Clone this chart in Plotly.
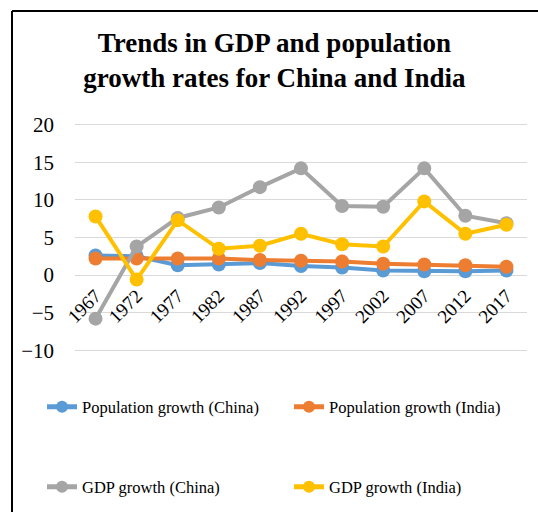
import plotly.graph_objects as go

years = ["1967", "1972", "1977", "1982", "1987", "1992", "1997", "2002", "2007", "2012", "2017"]
pop_china = [2.6, 2.5, 1.3, 1.4, 1.6, 1.2, 1.0, 0.6, 0.5, 0.5, 0.6]
pop_india = [2.2, 2.2, 2.2, 2.2, 2.0, 1.9, 1.8, 1.5, 1.4, 1.3, 1.1]
gdp_china = [-5.8, 3.8, 7.6, 9.0, 11.7, 14.2, 9.2, 9.1, 14.2, 7.9, 6.9]
gdp_india = [7.8, -0.6, 7.3, 3.5, 3.9, 5.5, 4.1, 3.8, 9.8, 5.5, 6.7]

series = [
    ("Population growth (China)", pop_china, "#5B9BD5", "legend"),
    ("Population growth (India)", pop_india, "#ED7D31", "legend"),
    ("GDP growth (China)", gdp_china, "#A5A5A5", "legend2"),
    ("GDP growth (India)", gdp_india, "#FFC000", "legend2"),
]

FONT = "Liberation Serif"

fig = go.Figure()
for name, vals, color, lg in series:
    fig.add_trace(go.Scatter(
        x=years, y=vals, name=name, mode="lines+markers",
        line=dict(color=color, width=4),
        marker=dict(color=color, size=14),
        legend=lg,
    ))

W, H = 538, 512
L, R, T, B = 75, 11, 121, 158
pw, ph = W - L - R, H - T - B
YMIN, YMAX = -10.5, 20.5

def px(x):
    return (x - L) / pw

def py(y):
    return (H - B - y) / ph

legend_common = dict(
    orientation="h", x=px(42), xanchor="left", yanchor="middle",
    font=dict(size=16.5, family=FONT), entrywidth=202, entrywidthmode="pixels",
    bgcolor="rgba(0,0,0,0)", itemsizing="constant",
)

fig.update_layout(
    width=W, height=H,
    margin=dict(l=L, r=R, t=T, b=B, autoexpand=False),
    paper_bgcolor="white", plot_bgcolor="white",
    font=dict(family=FONT, color="#000000"),
    title=dict(
        text="<b>Trends in GDP and population<br>growth rates for China and India</b>",
        x=0.51, xanchor="center", y=1 - 52 / H, yanchor="middle",
        font=dict(family=FONT, size=27, color="#000000"),
    ),
    xaxis=dict(
        type="category", range=[-0.5, 10.5], showgrid=False, showline=False,
        anchor="free", position=(0 - YMIN) / (YMAX - YMIN),
        tickangle=-45, tickfont=dict(size=19, family=FONT), ticks="",
        ticklabelstandoff=5,
    ),
    yaxis=dict(
        range=[YMIN, YMAX], dtick=5, tick0=0, showgrid=True, gridcolor="#D9D9D9", gridwidth=1,
        zeroline=False, showline=False, ticks="", ticklabelstandoff=20,
        tickfont=dict(size=21, family=FONT),
    ),
    legend=dict(legend_common, y=py(407)),
    legend2=dict(legend_common, y=py(487)),
    shapes=[
        dict(type="line", xref="paper", yref="paper", x0=px(12), x1=px(12), y0=py(11), y1=py(520),
             line=dict(color="black", width=2)),
        dict(type="line", xref="paper", yref="paper", x0=px(12), x1=px(540), y0=py(11), y1=py(11),
             line=dict(color="black", width=2)),
    ],
)

fig.write_html("out.html")
